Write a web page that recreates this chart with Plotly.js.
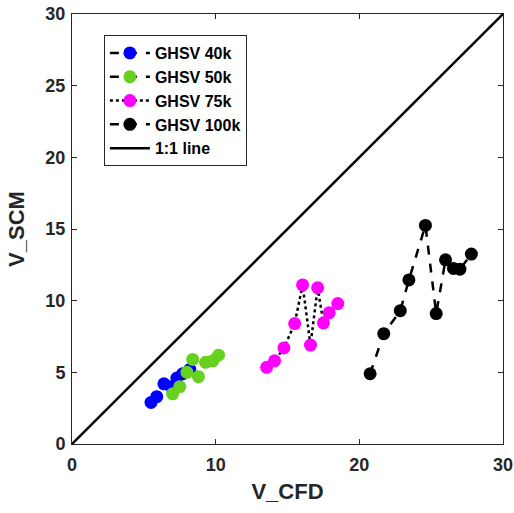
<!DOCTYPE html>
<html>
<head>
<meta charset="utf-8">
<script src="https://cdn.plot.ly/plotly-3.0.1.min.js"></script>
<style>html,body{margin:0;padding:0;background:#fff;}#chart{width:514px;height:513px;}</style>
</head>
<body>
<div id="chart"></div>
<script>
var seriesNames = ["GHSV 40k", "GHSV 50k", "GHSV 75k", "GHSV 100k"];
var ghsv40_cfd = [5.5, 5.9, 6.4, 6.9, 7.3, 7.7, 8.2];
var ghsv40_scm = [2.9, 3.3, 4.2, 4.0, 4.6, 4.9, 5.2];
var ghsv50_cfd = [7.0, 7.5, 8.0, 8.4, 8.8, 9.3, 9.8, 10.2];
var ghsv50_scm = [3.5, 4.0, 5.0, 5.9, 4.7, 5.7, 5.8, 6.2];
var ghsv75_cfd = [13.55, 14.1, 14.75, 15.5, 16.05, 16.6, 17.1, 17.5, 17.9, 18.5];
var ghsv75_scm = [5.35, 5.8, 6.7, 8.4, 11.1, 6.9, 10.9, 8.45, 9.15, 9.8];
var ghsv100_cfd = [20.75, 21.7, 22.85, 23.45, 24.6, 25.35, 26.0, 26.55, 27.0, 27.8];
var ghsv100_scm = [4.9, 7.7, 9.3, 11.45, 15.25, 9.1, 12.85, 12.25, 12.2, 13.25];
var oneToOne = [0, 30];
var xTicks = [0, 10, 20, 30];
var yTicks = [0, 5, 10, 15, 20, 25, 30];

var FONT = 'Liberation Sans, Arial, Helvetica, sans-serif';
function series(x, y, name, color, dash) {
  return {x: x, y: y, name: '<b>' + name + '</b>', type: 'scatter', mode: 'lines+markers',
    line: {color: '#000', width: 2.5, dash: dash},
    marker: {color: color, size: 13, line: {width: 0}}};
}
var traces = [
  series(ghsv40_cfd, ghsv40_scm, seriesNames[0], '#0000FF', 'dash'),
  series(ghsv50_cfd, ghsv50_scm, seriesNames[1], '#66D11E', 'dash'),
  series(ghsv75_cfd, ghsv75_scm, seriesNames[2], '#FF00FF', 'dot'),
  series(ghsv100_cfd, ghsv100_scm, seriesNames[3], '#000000', 'dash'),
  {x: oneToOne, y: oneToOne, name: '<b>1:1 line</b>', type: 'scatter', mode: 'lines',
    line: {color: '#000', width: 2.5}}
];
var axisCommon = {
  range: [0, 30], showgrid: false, zeroline: false, showline: true, mirror: 'ticks',
  linecolor: '#262626', linewidth: 1, ticks: 'inside', ticklen: 5, tickcolor: '#262626',
  tickfont: {family: FONT, size: 18, color: '#262626'},
  fixedrange: true
};
function boldTicks(v) { return v.map(function (t) { return '<b>' + t + '</b>'; }); }
var layout = {
  width: 514, height: 513,
  margin: {l: 72, r: 11, t: 14, b: 69},
  paper_bgcolor: '#fff', plot_bgcolor: '#fff',
  xaxis: Object.assign({}, axisCommon, {tickvals: xTicks, ticktext: boldTicks(xTicks), ticklabelstandoff: 4,
    title: {text: '<b>V_CFD</b>', standoff: 10, font: {family: FONT, size: 22, color: '#262626'}}}),
  yaxis: Object.assign({}, axisCommon, {tickvals: yTicks, ticktext: boldTicks(yTicks), ticklabelstandoff: 2,
    title: {text: '<b>V_SCM</b>', standoff: 14, font: {family: FONT, size: 22, color: '#262626'}}}),
  showlegend: true,
  legend: {x: 0.074, y: 0.951, xanchor: 'left', yanchor: 'top',
    bgcolor: '#fff', bordercolor: '#262626', borderwidth: 1,
    font: {family: FONT, size: 16, color: '#000'},
    tracegroupgap: 0, itemwidth: 40}
};
Plotly.newPlot('chart', traces, layout, {displayModeBar: false, staticPlot: true});
</script>
</body>
</html>
